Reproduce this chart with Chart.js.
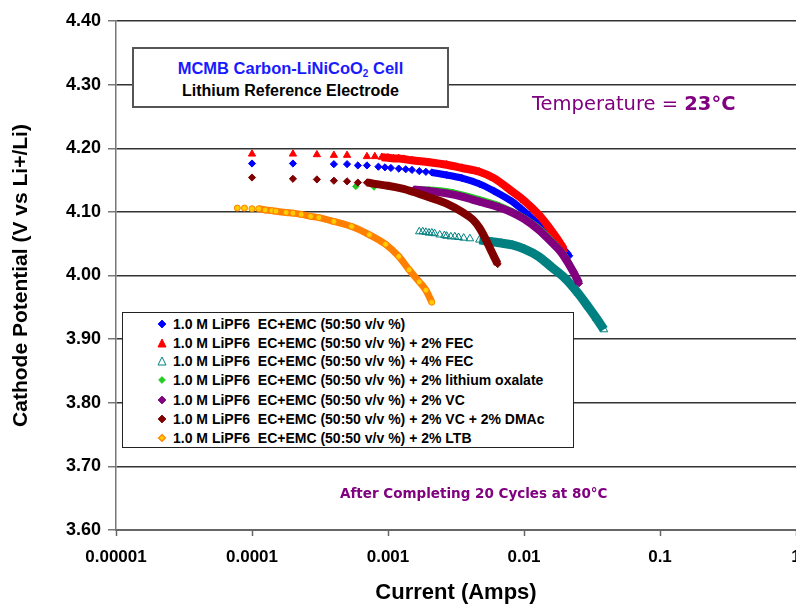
<!DOCTYPE html>
<html>
<head>
<meta charset="utf-8">
<script src="https://cdn.jsdelivr.net/npm/chart.js@4"></script>
<style>
    html, body { margin: 0; padding: 0; background: #fff; overflow: hidden; width: 796px; height: 604px; }
    #wrap { position: absolute; left: 0; top: 0; width: 812px; height: 604px; }
    .box { position: absolute; background: #fff; box-sizing: border-box; font-family: "Liberation Sans", Arial, sans-serif; font-weight: bold; }
    #titleBox { left: 132px; top: 47px; width: 317px; height: 61px; border: 2px solid #555; text-align: center; }
    #titleBox .l1 { position: absolute; left: 0; right: 0; top: 10px; font-size: 16.5px; color: #1a1aff; }
    #titleBox .l1 sub { font-size: 10px; vertical-align: -3px; line-height: 0; }
    #titleBox .l2 { position: absolute; left: 0; right: 0; top: 33px; font-size: 16px; color: #000; }
    #legendBox { left: 122px; top: 312px; width: 452px; height: 136px; border: 1.5px solid #222; }
    .row { position: absolute; left: 34px; height: 18px; font-size: 14px; line-height: 18px; color: #000; white-space: pre; }
    .row svg { position: absolute; left: 0; top: 4px; }
    .row span { position: absolute; left: 16px; }
    .note { position: absolute; color: #800080; font-family: "Comic Sans MS", "DejaVu Sans", sans-serif; white-space: pre; }
    #temp { left: 532px; top: 92px; font-size: 19.5px; }
    #after { left: 340px; top: 485px; font-size: 13.5px; font-weight: bold; }
</style>
</head>
<body>
<div id="wrap"><canvas id="chart" width="812" height="604"></canvas></div>
<div id="titleBox" class="box">
    <div class="l1">MCMB Carbon-LiNiCoO<sub>2</sub> Cell</div>
    <div class="l2">Lithium Reference Electrode</div>
</div>
<div id="temp" class="note">Temperature = <b>23°C</b></div>
<div id="after" class="note">After Completing 20 Cycles at 80°C</div>
<div id="legendBox" class="box"></div>
<script>
// series labels
const seriesNames = [
    '1.0 M LiPF6  EC+EMC (50:50 v/v %)',
    '1.0 M LiPF6  EC+EMC (50:50 v/v %) + 2% FEC',
    '1.0 M LiPF6  EC+EMC (50:50 v/v %) + 4% FEC',
    '1.0 M LiPF6  EC+EMC (50:50 v/v %) + 2% lithium oxalate',
    '1.0 M LiPF6  EC+EMC (50:50 v/v %) + 2% VC',
    '1.0 M LiPF6  EC+EMC (50:50 v/v %) + 2% VC + 2% DMAc',
    '1.0 M LiPF6  EC+EMC (50:50 v/v %) + 2% LTB'
]

// current (A) / potential (V)
const baseI = [0.0001, 0.0002, 0.0004, 0.0005, 0.0006, 0.0007, 0.00085, 0.00095, 0.00105, 0.0012, 0.00135, 0.0015, 0.0017, 0.0019, 0.0021, 0.0027, 0.0035, 0.0047, 0.006, 0.0082, 0.01, 0.0128, 0.015, 0.0175, 0.0195, 0.0215]
const baseV = [4.176, 4.176, 4.175, 4.175, 4.173, 4.173, 4.171, 4.170, 4.169, 4.168, 4.167, 4.166, 4.164, 4.163, 4.162, 4.158, 4.153, 4.144, 4.133, 4.116, 4.101, 4.080, 4.066, 4.052, 4.041, 4.031]

const fec2I = [0.0001, 0.0002, 0.0003, 0.0004, 0.0005, 0.0007, 0.0008, 0.0009, 0.001, 0.0011, 0.0012, 0.0013, 0.0015, 0.002, 0.0027, 0.0035, 0.0047, 0.006, 0.0082, 0.01, 0.0128, 0.015, 0.0175, 0.0197]
const fec2V = [4.191, 4.191, 4.190, 4.189, 4.189, 4.187, 4.187, 4.186, 4.185, 4.184, 4.184, 4.183, 4.181, 4.178, 4.174, 4.169, 4.163, 4.153, 4.132, 4.118, 4.096, 4.078, 4.058, 4.041]

const fec4I = [0.0017, 0.0018, 0.0019, 0.002, 0.0021, 0.0022, 0.0024, 0.0026, 0.0027, 0.0029, 0.0031, 0.0033, 0.0036, 0.004, 0.0047, 0.0058, 0.0068, 0.0082, 0.01, 0.0128, 0.016, 0.0204, 0.025, 0.0296, 0.034, 0.0387]
const fec4V = [4.069, 4.069, 4.068, 4.067, 4.067, 4.066, 4.064, 4.063, 4.062, 4.061, 4.061, 4.060, 4.059, 4.058, 4.056, 4.053, 4.051, 4.048, 4.042, 4.030, 4.013, 3.994, 3.972, 3.951, 3.933, 3.915]

const oxalateI = [0.00058, 0.00079, 0.001, 0.0013, 0.0016, 0.002, 0.003, 0.0047, 0.0066, 0.0082, 0.01, 0.0128, 0.016, 0.0197, 0.023, 0.0254]
const oxalateV = [4.140, 4.139, 4.140, 4.137, 4.135, 4.135, 4.131, 4.120, 4.110, 4.101, 4.091, 4.075, 4.055, 4.033, 4.008, 3.990]

const vcI = [0.00155, 0.002, 0.0027, 0.0035, 0.0047, 0.0066, 0.0082, 0.01, 0.0128, 0.016, 0.018, 0.0197, 0.023, 0.0254]
const vcV = [4.135, 4.133, 4.129, 4.124, 4.116, 4.107, 4.099, 4.089, 4.072, 4.052, 4.041, 4.030, 4.006, 3.988]

const dmacI = [0.0001, 0.0002, 0.0003, 0.0004, 0.0005, 0.0006, 0.0007, 0.0008, 0.001, 0.0013, 0.0015, 0.002, 0.0027, 0.0035, 0.0042, 0.0047, 0.0052, 0.0057, 0.0061, 0.0064]
const dmacV = [4.154, 4.152, 4.151, 4.149, 4.148, 4.146, 4.146, 4.144, 4.141, 4.136, 4.132, 4.123, 4.113, 4.100, 4.088, 4.075, 4.058, 4.040, 4.027, 4.018]

const ltbI = [0.000078, 0.000088, 0.0001, 0.000112, 0.000125, 0.00014, 0.00015, 0.000178, 0.0002, 0.00023, 0.00027, 0.00031, 0.0004, 0.00054, 0.00073, 0.00096, 0.0012, 0.00143, 0.0017, 0.0019, 0.0021]
const ltbV = [4.106, 4.106, 4.105, 4.105, 4.103, 4.102, 4.101, 4.099, 4.098, 4.096, 4.093, 4.091, 4.085, 4.077, 4.064, 4.049, 4.030, 4.009, 3.990, 3.977, 3.958]

const xTicks = [0.00001, 0.0001, 0.001, 0.01, 0.1, 1]
const xTickLabels = ['0.00001', '0.0001', '0.001', '0.01', '0.1', '1']
const yTickLabels = ['3.60', '3.70', '3.80', '3.90', '4.00', '4.10', '4.20', '4.30', '4.40']

// where markers merge into a solid band
const bandFrom = [0.002, 0.0009, 0.0047, 0.0016, 0.00155, 0.0007, 0.000112]

const styles = [
    {color: '#0000ff', fill: '#0000ff', shape: 'rectRot', r: 3.6, band: 7},
    {color: '#ff0000', fill: '#ff0000', shape: 'triangle', r: 4.2, band: 8},
    {color: '#008080', fill: 'rgba(255,255,255,0)', shape: 'triangle', r: 4.4, band: 9},
    {color: '#22cc22', fill: '#22cc22', shape: 'rectRot', r: 3.2, band: 6},
    {color: '#800080', fill: '#800080', shape: 'rectRot', r: 3.6, band: 8},
    {color: '#800000', fill: '#800000', shape: 'rectRot', r: 3.6, band: 8},
    {color: '#ff8000', fill: '#ffcc00', shape: 'circle', r: 3, band: 7}
]

const pairs = [[baseI, baseV], [fec2I, fec2V], [fec4I, fec4V], [oxalateI, oxalateV], [vcI, vcV], [dmacI, dmacV], [ltbI, ltbV]]

const datasets = pairs.map(([xs, ys], i) => ({
    label: seriesNames[i],
    data: xs.map((x, k) => ({x: x, y: ys[k]})),
    borderColor: styles[i].color,
    backgroundColor: styles[i].fill,
    borderWidth: styles[i].band,
    pointStyle: styles[i].shape,
    pointRadius: styles[i].r,
    pointBorderWidth: 1,
    pointBorderColor: styles[i].color,
    pointBackgroundColor: styles[i].fill,
    cubicInterpolationMode: 'monotone',
    order: 7 - i,
    segment: {
        borderColor: ctx => ctx.p0.parsed.x >= bandFrom[i] * 0.999 ? styles[i].color : 'rgba(0,0,0,0)'
    }
}))

const chart = new Chart(document.getElementById('chart'), {
    type: 'line',
    data: {datasets: datasets},
    options: {
        responsive: false,
        animation: false,
        devicePixelRatio: 1,
        layout: {padding: {left: 6, right: 16, top: 21, bottom: 0}},
        plugins: {
            legend: {display: false},
            tooltip: {enabled: false}
        },
        scales: {
            x: {
                type: 'logarithmic',
                min: 0.00001,
                max: 1,
                afterBuildTicks: (scale) => {
                    scale.ticks = xTicks.map(v => ({value: v}))
                },
                afterFit: (scale) => { scale.height = 74 },
                grid: {drawOnChartArea: false, tickLength: 6, tickColor: '#666', tickWidth: 1.5},
                border: {color: '#666', width: 2},
                ticks: {
                    autoSkip: false,
                    maxRotation: 0,
                    padding: 11,
                    color: '#000',
                    font: {family: 'Liberation Sans', size: 17, weight: 'bold'},
                    callback: (value, index) => xTickLabels[index]
                },
                title: {
                    display: true,
                    text: 'Current (Amps)',
                    color: '#000',
                    font: {family: 'Liberation Sans', size: 22, weight: 'bold', lineHeight: 1.0},
                    padding: {top: 0, bottom: 0}
                }
            },
            y: {
                min: 3.6,
                max: 4.4,
                afterFit: (scale) => { scale.width = 110 },
                grid: {color: '#333', lineWidth: 1.5, tickLength: 8, tickColor: '#777', tickWidth: 1.5},
                border: {color: '#777', width: 1.5},
                ticks: {
                    stepSize: 0.1,
                    padding: 7,
                    color: '#000',
                    font: {family: 'Liberation Sans', size: 18, weight: 'bold'},
                    callback: (value, index) => yTickLabels[index]
                },
                title: {
                    display: true,
                    text: 'Cathode Potential (V vs Li+/Li)',
                    color: '#000',
                    font: {family: 'Liberation Sans', size: 21, weight: 'bold'},
                    padding: {top: 3, bottom: 0}
                }
            }
        }
    }
})

// legend rows drawn as html, markers as small svgs
const legendBox = document.getElementById('legendBox')
const rowTops = [2, 21, 39, 58, 78, 97, 116]
function markerSvg(s) {
    let shape
    if (s.shape === 'triangle') {
        shape = `<polygon points="5,1 9,9 1,9" fill="${s.fill}" stroke="${s.color}" stroke-width="1"/>`
    } else if (s.shape === 'circle') {
        shape = `<polygon points="5,1.5 8.5,5 5,8.5 1.5,5" fill="${s.fill}" stroke="${s.color}" stroke-width="1.2"/>`
    } else {
        const h = s.r > 3.4 ? 4 : 3.4
        shape = `<polygon points="5,${5 - h} ${5 + h},5 5,${5 + h} ${5 - h},5" fill="${s.fill}" stroke="${s.color}" stroke-width="0.8"/>`
    }
    return `<svg width="10" height="10" viewBox="0 0 10 10">${shape}</svg>`
}
seriesNames.forEach((name, i) => {
    const row = document.createElement('div')
    row.className = 'row'
    row.style.top = rowTops[i] + 'px'
    row.innerHTML = markerSvg(styles[i]) + '<span></span>'
    row.querySelector('span').textContent = name
    legendBox.appendChild(row)
})
</script>
</body>
</html>
